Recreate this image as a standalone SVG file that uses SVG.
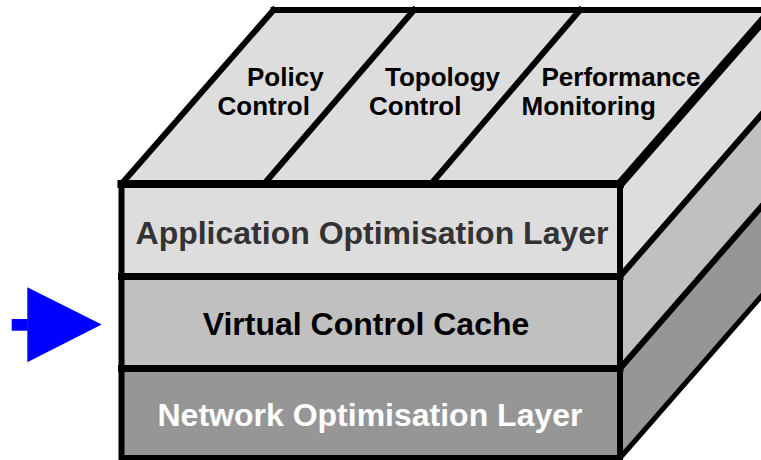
<svg xmlns="http://www.w3.org/2000/svg" width="761" height="460" viewBox="0 0 761 460">
<style>
.edge{stroke:#000;fill:none;stroke-linejoin:miter;stroke-linecap:square}
.lt{fill:#dddddd}
.md{fill:#c0c0c0}
.dk{fill:#969696}
.lbl{font-family:"Liberation Sans",Arial,sans-serif;font-weight:bold;font-size:32px;text-anchor:middle}
.top{font-family:"Liberation Sans",Arial,sans-serif;font-weight:bold;font-size:26px;fill:#000}
</style>
<rect width="761" height="460" fill="#fff"/>
<g id="top-face">
  <polygon class="lt" points="121.5,184 273.5,10 772,10 620,184"/>
</g>
<g id="policy-control">
  <text class="top" x="247" y="86">Policy</text>
  <text class="top" x="217.5" y="115">Control</text>
</g>
<g id="topology-control">
  <text class="top" x="385" y="86">Topology</text>
  <text class="top" x="369" y="115">Control</text>
</g>
<g id="performance-monitoring">
  <text class="top" x="541.5" y="86">Performance</text>
  <text class="top" x="521.5" y="115">Monitoring</text>
</g>
<g id="side-face">
  <polygon class="lt" points="620,184 772,10 772,102.5 620,276.5"/>
  <polygon class="md" points="620,276.5 772,102.5 772,194.5 620,368.5"/>
  <polygon class="dk" points="620,368.5 772,194.5 772,284 620,458"/>
</g>
<g id="application-layer">
  <rect class="lt" x="121.5" y="184" width="498.5" height="92.5"/>
  <text class="lbl" x="372" y="244" fill="#333333">Application Optimisation Layer</text>
</g>
<g id="virtual-control-cache">
  <rect class="md" x="121.5" y="276.5" width="498.5" height="92"/>
  <text class="lbl" x="366" y="335" fill="#000">Virtual Control Cache</text>
</g>
<g id="network-layer">
  <rect class="dk" x="121.5" y="368.5" width="498.5" height="89.5"/>
  <text class="lbl" x="370" y="426" fill="#fff">Network Optimisation Layer</text>
</g>
<g id="outlines">
  <line class="edge" x1="273.5" y1="10" x2="772" y2="10" stroke-width="6"/>
  <line class="edge" x1="121.5" y1="184" x2="273.5" y2="10" stroke-width="6"/>
  <line class="edge" x1="264" y1="184" x2="414" y2="10" stroke-width="6"/>
  <line class="edge" x1="431" y1="184" x2="580" y2="10" stroke-width="6"/>
  <line class="edge" x1="620" y1="276.5" x2="772" y2="102.5" stroke-width="6"/>
  <line class="edge" x1="620" y1="368.5" x2="772" y2="194.5" stroke-width="6"/>
  <line class="edge" x1="620" y1="458" x2="772" y2="284" stroke-width="5"/>
  <line class="edge" x1="121.5" y1="276.5" x2="620" y2="276.5" stroke-width="7"/>
  <line class="edge" x1="121.5" y1="368.5" x2="620" y2="368.5" stroke-width="7"/>
  <rect class="edge" x="121.5" y="184" width="498.5" height="274" stroke-width="6"/>
  <line class="edge" x1="121.5" y1="184" x2="620" y2="184" stroke-width="8"/>
  <line class="edge" x1="620" y1="184" x2="772" y2="10" stroke-width="9"/>
</g>
<g id="connectors">
  <g id="arrow">
    <rect x="11.7" y="319" width="16" height="11.7" fill="#0000ff"/>
    <polygon points="27.3,287.3 101.7,324.5 27.3,362.3" fill="#0000ff"/>
  </g>
</g>
</svg>
